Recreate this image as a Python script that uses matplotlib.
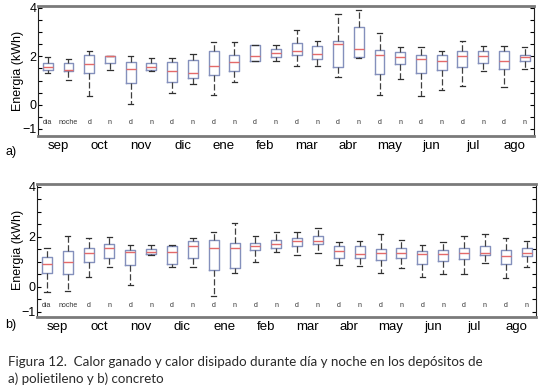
import numpy as np
import matplotlib.pyplot as plt

months = ['sep', 'oct', 'nov', 'dic', 'ene', 'feb', 'mar', 'abr', 'may', 'jun', 'jul', 'ago']
dn_labels = ['dia', 'noche'] + ['d', 'n'] * 11

# a) polietileno: whisker low, q1, median, q3, whisker high
a_lo = [1.32, 1.03, 0.37, 1.42, 0.04, 1.39, 0.47, 0.87, 0.39, 0.95, 1.79, 1.82,
        1.62, 1.62, 1.14, 1.95, 0.41, 1.08, 0.37, 0.63, 0.76, 1.38, 0.72, 1.47]
a_q1 = [1.45, 1.39, 1.32, 1.71, 0.89, 1.42, 0.96, 1.11, 1.22, 1.38, 1.82, 1.97,
        2.05, 1.89, 1.58, 1.97, 1.26, 1.70, 1.30, 1.43, 1.58, 1.74, 1.47, 1.82]
a_med = [1.58, 1.42, 1.68, 2.00, 1.47, 1.55, 1.39, 1.30, 1.62, 1.78, 2.00, 2.14,
         2.21, 2.11, 2.50, 2.29, 2.05, 1.97, 1.89, 1.82, 2.00, 2.00, 1.79, 1.97]
a_q3 = [1.72, 1.72, 2.04, 2.01, 1.78, 1.72, 1.78, 1.87, 2.21, 2.05, 2.45, 2.32,
        2.57, 2.41, 2.64, 3.22, 2.25, 2.17, 2.05, 2.04, 2.21, 2.21, 2.21, 2.05]
a_hi = [1.97, 1.89, 2.21, 2.01, 2.00, 1.95, 1.95, 2.08, 2.61, 2.61, 2.47, 2.45,
        3.07, 2.64, 3.75, 3.92, 2.96, 2.39, 2.37, 2.21, 2.64, 2.43, 2.43, 2.37]

# b) concreto
b_lo = [-0.21, -0.17, 0.38, 0.78, 0.08, 1.28, 0.78, 0.78, -0.37, 0.55, 1.01, 1.41,
        1.26, 1.37, 0.87, 0.83, 0.55, 0.74, 0.38, 0.51, 0.51, 0.97, 0.34, 0.78]
b_q1 = [0.54, 0.51, 1.01, 1.17, 0.87, 1.30, 0.93, 1.17, 0.68, 0.74, 1.49, 1.54,
        1.62, 1.72, 1.17, 1.17, 1.09, 1.17, 0.93, 1.04, 1.12, 1.26, 0.91, 1.22]
b_med = [0.91, 1.01, 1.34, 1.54, 1.39, 1.41, 1.41, 1.64, 1.54, 1.54, 1.64, 1.71,
         1.84, 1.84, 1.45, 1.30, 1.37, 1.37, 1.30, 1.30, 1.37, 1.37, 1.22, 1.37]
b_q3 = [1.21, 1.43, 1.57, 1.72, 1.49, 1.50, 1.62, 1.83, 1.88, 1.75, 1.75, 1.88,
        1.96, 2.03, 1.62, 1.62, 1.51, 1.57, 1.45, 1.49, 1.57, 1.62, 1.49, 1.57]
b_hi = [1.57, 2.04, 1.96, 2.01, 1.68, 1.68, 1.68, 1.96, 2.20, 2.55, 2.04, 2.20,
        2.20, 2.36, 1.80, 1.84, 2.12, 1.88, 1.66, 1.80, 2.04, 2.12, 1.96, 1.84]

W, H = 544, 389
fig = plt.figure(figsize=(W / 100, H / 100), dpi=100)
plt.rcParams['font.family'] = ['Liberation Sans', 'DejaVu Sans']


def px_axes(l, t, r, b):
    return fig.add_axes([l / W, 1 - b / H, (r - l) / W, (b - t) / H])


def draw_panel(ax, lo, q1, med, q3, hi, ylim):
    stats = []
    for i in range(len(med)):
        stats.append(dict(whislo=lo[i], q1=q1[i], med=med[i], q3=q3[i],
                          whishi=hi[i], fliers=[]))
    pos = np.arange(1, len(med) + 1)
    ax.bxp(stats, positions=pos, widths=0.48, showfliers=False, manage_ticks=False,
           boxprops=dict(color='#8490bc', linewidth=1.0),
           medianprops=dict(color='#e46a6a', linewidth=1.0),
           whiskerprops=dict(color='#404040', linewidth=0.9, linestyle=(0, (5, 2))),
           capprops=dict(color='#303030', linewidth=0.9),
           capwidths=0.26)
    for p, s in zip(pos, dn_labels):
        ax.text(p, -0.75, s, ha='center', va='center', fontsize=5, color='#333333')
    ax.set_xlim(0.53, 24.45)
    ax.set_ylim(*ylim)
    ax.set_xticks(np.arange(1.5, 24, 2))
    ax.set_xticklabels(months, fontsize=9.5)
    ax.tick_params(axis='x', length=0, pad=3)
    ax.set_yticks([-1, 0, 2, 4])
    ax.set_yticks(np.arange(-1, 4.01, 0.5), minor=True)
    ax.tick_params(axis='y', which='both', direction='in', length=3, width=0.8,
                   right=True, labelsize=9, pad=1)
    for side in ['top', 'bottom']:
        ax.spines[side].set_color('#7a7a7a')
        ax.spines[side].set_linewidth(2.0)
    for side in ['left', 'right']:
        ax.spines[side].set_color('#202020')
        ax.spines[side].set_linewidth(0.8)


ax1 = px_axes(38, 6, 534, 136)
draw_panel(ax1, a_lo, a_q1, a_med, a_q3, a_hi, (-1.29, 4.08))
ax2 = px_axes(37, 184, 536, 317)
draw_panel(ax2, b_lo, b_q1, b_med, b_q3, b_hi, (-1.21, 4.11))

fig.text(18 / W, 1 - 71 / H, 'Energia (kWh)', rotation=90, ha='center', va='center', fontsize=9)
fig.text(18 / W, 1 - 250 / H, 'Energia (kWh)', rotation=90, ha='center', va='center', fontsize=9)
fig.text(5 / W, 1 - 152 / H, 'a)', ha='left', va='center', fontsize=9)
fig.text(5 / W, 1 - 325 / H, 'b)', ha='left', va='center', fontsize=9)

cap_font = ['Lato', 'DejaVu Sans']
fig.text(8 / W, 1 - 362 / H,
         'Figura 12.  Calor ganado y calor disipado durante día y noche en los depósitos de',
         ha='left', va='center', fontsize=9.6, color='#2a2a2a', family=cap_font)
fig.text(8 / W, 1 - 379 / H, 'a) polietileno y b) concreto',
         ha='left', va='center', fontsize=9.6, color='#2a2a2a', family=cap_font)

fig.savefig('out.png', dpi=100)
